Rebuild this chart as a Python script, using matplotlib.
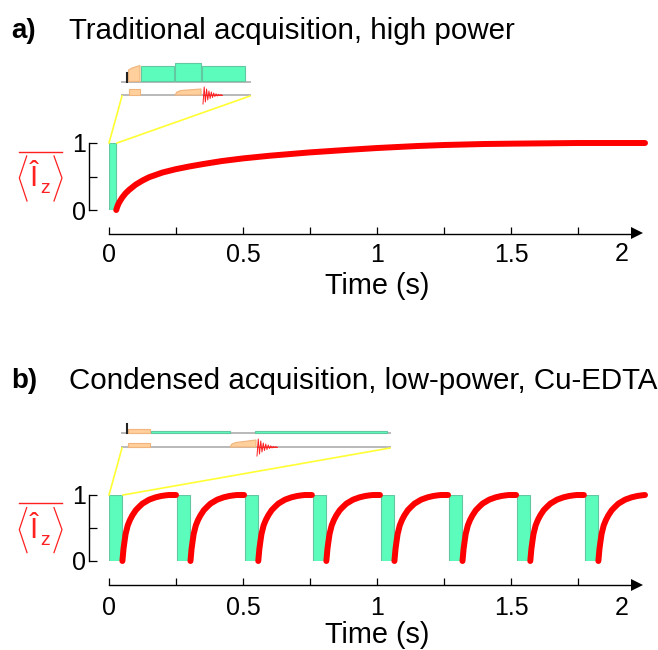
import numpy as np
import matplotlib
matplotlib.use('Agg')
import matplotlib.pyplot as plt

plt.rcParams['font.family'] = ['Liberation Sans', 'DejaVu Sans']

W, H = 658, 650
GREEN = '#5CFDBC'
GREEN_EDGE = '#62C8A2'
ORANGE = '#FFCF9C'
ORANGE_EDGE = '#F0B47C'
GRAY = '#B9B9B9'
YELLOW = '#FFFF33'

# panel a: one long block, then slow recovery
a_bar_starts = [0.0]
a_bar_width = 0.027
a_time = [0.027, 0.030, 0.035, 0.042, 0.05, 0.062, 0.075, 0.1, 0.125, 0.15, 0.2, 0.25, 0.3, 0.35, 0.42,
          0.5, 0.6, 0.75, 0.9, 1.0, 1.15, 1.25, 1.4, 1.5, 1.75, 2.0]
a_signal = [0.0, 0.04, 0.09, 0.14, 0.19, 0.25, 0.30, 0.38, 0.44, 0.49, 0.56, 0.61, 0.65, 0.685, 0.73,
            0.77, 0.81, 0.86, 0.90, 0.925, 0.955, 0.97, 0.985, 0.99, 1.0, 1.0]

# panel b: short blocks, fast recovery after each one
b_bar_starts = [0.0, 0.254, 0.507, 0.761, 1.015, 1.269, 1.522, 1.776]
b_bar_width = 0.05
b_rec_time = [0.0, 0.002, 0.004, 0.008, 0.012, 0.02, 0.028, 0.037, 0.05, 0.062, 0.075, 0.1, 0.124, 0.145, 0.162, 0.174, 0.193, 0.2]
b_rec_signal = [0.0, 0.09, 0.18, 0.30, 0.41, 0.54, 0.62, 0.69, 0.77, 0.82, 0.87, 0.93, 0.965, 0.985, 0.995, 1.0, 1.0, 1.0]

x_ticks = [0, 0.25, 0.5, 0.75, 1, 1.25, 1.5, 1.75]
x_labels = ['0', '', '0.5', '', '1', '', '1.5', '']
y_ticks = [0, 0.5, 1]
y_labels = ['0', '', '1']

# pulse sequences, in pixels of the picture (x0, x1, y_top, y_base)
a_green = [(141, 174, 66, 81), (175, 201, 63, 81), (202, 245, 66, 81)]
a_orange = [(128.5, 140, 89, 95)]
b_green = [(151, 230, 431, 433), (255, 387, 431, 433)]
b_orange = [(128, 150, 429, 433), (128, 150, 443, 447)]
fid_amp = [9, -8, 7, -6, 5, -4, 3.5, -3, 2.5, -2, 1.5, -1.2, 1, -0.7, 0.5, -0.3, 0.2]

fig = plt.figure(figsize=(W / 100, H / 100), dpi=100)


def panel(y1_px, y0_px, xpad):
    ax = fig.add_axes([109 / W, 1 - y0_px / H, 536 / W, (y0_px - y1_px) / H])
    ax.set_xlim(0, 2)
    ax.set_ylim(0, 1)
    ax.patch.set_alpha(0)
    for s in ['top', 'right']:
        ax.spines[s].set_visible(False)
    ax.spines['bottom'].set_position(('outward', 23.5 * 0.72))
    ax.spines['bottom'].set_bounds(0, 1.96)
    ax.spines['left'].set_position(('outward', 20 * 0.72))
    ax.spines['left'].set_bounds(0, 1)
    for s in ['bottom', 'left']:
        ax.spines[s].set_linewidth(1.0)
    ax.set_xticks(x_ticks)
    ax.set_xticklabels(x_labels)
    ax.set_yticks(y_ticks)
    ax.set_yticklabels(y_labels)
    ax.tick_params(axis='x', direction='in', length=5, width=0.9, labelsize=18, pad=xpad)
    ax.tick_params(axis='y', direction='in', length=5.5, width=0.9, labelsize=18, pad=2.5)
    return ax


ax_a = panel(143, 210, 7)
ax_a.bar(a_bar_starts, [1], width=a_bar_width, align='edge', color=GREEN, edgecolor=GREEN_EDGE, linewidth=0.8)
ax_a.plot(a_time, a_signal, color='#FF0000', lw=4.3, solid_capstyle='round', clip_on=False)

ax_b = panel(495, 561, 8.5)
ax_b.bar(b_bar_starts, [1] * len(b_bar_starts), width=b_bar_width, align='edge', color=GREEN, edgecolor=GREEN_EDGE, linewidth=0.8)
for st in b_bar_starts:
    tt = st + b_bar_width + np.array(b_rec_time)
    keep = tt <= 2.0
    ax_b.plot(tt[keep], np.array(b_rec_signal)[keep], color='#FF0000', lw=4.3, solid_capstyle='round', clip_on=False)

# overlay in pixels for the labels and the pulse schemes
ov = fig.add_axes([0, 0, 1, 1])
ov.set_xlim(0, W)
ov.set_ylim(H, 0)
ov.axis('off')
ov.patch.set_alpha(0)


def blocks(lst, col, edge):
    for x0, x1, top, base in lst:
        ov.fill([x0, x0, x1, x1], [base, top, top, base], facecolor=col, edgecolor=edge, lw=0.8, zorder=3)


def fid(x0, x1, yc):
    xs = np.linspace(x0, x1, len(fid_amp))
    ov.plot(xs, yc + np.array(fid_amp), color='#FF2020', lw=0.7, zorder=4)
    ov.plot([x0, x1], [yc, yc], color='#FF2020', lw=0.6, zorder=4)


def scheme(x_end, y_top, y_low, green, orange, shape_x, shape_top, fid_x):
    ov.plot([122, x_end], [y_top, y_top], color=GRAY, lw=1.4, zorder=2)
    ov.plot([122, x_end], [y_low, y_low], color=GRAY, lw=1.4, zorder=2)
    ov.plot([127, 127], [y_top - 9.5, y_top], color='#222222', lw=1.5, zorder=5)
    blocks(green, GREEN, GREEN_EDGE)
    blocks(orange, ORANGE, ORANGE_EDGE)
    # shaped pulse on the second channel
    sx = [shape_x[0], shape_x[0] + 2, shape_x[0] + 6, shape_x[1], shape_x[1]]
    sy = [y_low, y_low - 3, y_low - 4.5, y_low - shape_top, y_low]
    ov.fill(sx, sy, facecolor=ORANGE, edgecolor=ORANGE_EDGE, lw=0.8, zorder=3)
    fid(fid_x[0], fid_x[1], y_low)


scheme(250, 82, 95, a_green, a_orange, (175, 201), 6, (203, 222))
ov.fill([128.5, 128.5, 132, 140, 140], [81.5, 70, 68, 65.5, 81.5], facecolor=ORANGE, edgecolor=ORANGE_EDGE, lw=0.8, zorder=3)
scheme(390, 433, 447, b_green, b_orange, (230, 256), 7, (257, 277))

# zoom lines
ov.plot([122, 109], [96, 143], color=YELLOW, lw=1.2)
ov.plot([250, 117], [96, 143], color=YELLOW, lw=1.2)
ov.plot([122, 109], [448, 495], color=YELLOW, lw=1.2)
ov.plot([390, 123], [448, 495], color=YELLOW, lw=1.2)

for y_axis, y_num, y_lab in [(233, 254, 286), (585, 608, 635)]:
    ov.plot([637], [y_axis], marker='>', color='k', ms=8, mew=0, clip_on=False)
    ov.text(622, y_num, '2', fontsize=18, ha='center', va='center')
    ov.text(377, y_lab, 'Time (s)', fontsize=20.8, ha='center', va='center')

# expectation value label
for dy in [0, 351.6]:
    ov.plot([19, 62], [151.7 + dy, 151.7 + dy], color='#FF2020', lw=1.0)
    ov.plot([26.7, 19.3, 27], [156 + dy, 178 + dy, 201 + dy], color='#FF2020', lw=0.9)
    ov.plot([54, 62, 54], [156 + dy, 178 + dy, 201 + dy], color='#FF2020', lw=0.9)
    ov.text(34, 186 + dy, '\u00ce', color='#FF2020', fontsize=21, ha='center', va='baseline')
    ov.text(45, 193 + dy, 'z', color='#FF2020', fontsize=14, ha='center', va='baseline')

ov.text(11, 31, 'a)', fontsize=20, fontweight='bold', va='center')
ov.text(69, 31, 'Traditional acquisition, high power', fontsize=21.25, va='center')
ov.text(11, 381, 'b)', fontsize=20, fontweight='bold', va='center')
ov.text(69, 381, 'Condensed acquisition, low-power, Cu-EDTA', fontsize=21.25, va='center')

fig.savefig('out.png', dpi=100)
